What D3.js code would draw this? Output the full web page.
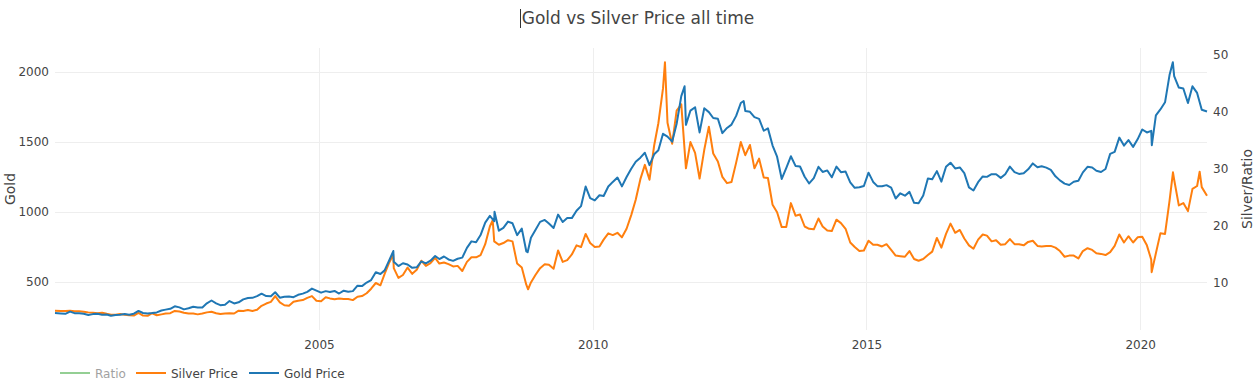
<!DOCTYPE html>
<html>
<head>
<meta charset="utf-8">
<script src="https://cdn.jsdelivr.net/npm/d3@7"></script>
<style>
  body { margin: 0; background: #fff; }
  text { font-family: Verdana, 'DejaVu Sans', sans-serif; fill: #444; }
</style>
</head>
<body>
<div id="plot"></div>
<script>
// monthly values, Mar 2000 .. Mar 2021
var goldPrice = [
  278, 275, 272, 288, 277, 277, 273, 264, 270, 272,
  265, 267, 258, 264, 266, 270, 266, 273, 293, 278, 275, 278,
  282, 296, 302, 308, 326, 318, 304, 312, 323, 317, 318, 347,
  367, 347, 334, 337, 363, 346, 354, 375, 385, 386, 398, 416,
  399, 397, 426, 387, 394, 395, 391, 408, 416, 429, 452, 438,
  423, 434, 428, 435, 417, 437, 430, 434, 473, 470, 495, 513,
  569, 556, 582, 654, 643, 613, 633, 624, 600, 604, 646, 632,
  651, 685, 663, 681, 660, 650, 665, 673, 743, 789, 783, 834,
  923, 971, 933, 865, 885, 930, 918, 833, 880, 718, 815, 870,
  928, 942, 916, 884, 980, 927, 955, 955, 1007, 1040, 1180, 1097,
  1081, 1118, 1113, 1180, 1213, 1244, 1181, 1248, 1307, 1357, 1386, 1421,
  1333, 1410, 1439, 1556, 1536, 1500, 1628, 1825, 1620, 1722, 1746, 1566,
  1738, 1711, 1669, 1664, 1561, 1598, 1622, 1684, 1776, 1719, 1713, 1675,
  1663, 1578, 1595, 1472, 1393, 1234, 1312, 1396, 1327, 1323, 1250, 1202,
  1240, 1321, 1284, 1295, 1246, 1322, 1282, 1287, 1210, 1171, 1175, 1184,
  1279, 1213, 1183, 1182, 1190, 1172, 1095, 1132, 1115, 1142, 1064, 1061,
  1116, 1238, 1232, 1290, 1215, 1321, 1350, 1309, 1316, 1276, 1174, 1152,
  1211, 1252, 1249, 1268, 1268, 1242, 1268, 1322, 1283, 1270, 1275, 1303,
  1345, 1318, 1325, 1315, 1299, 1253, 1224, 1201, 1191, 1214, 1222, 1281,
  1321, 1316, 1293, 1284, 1305, 1413, 1427, 1529, 1472, 1512, 1463, 1517,
  1587, 1566, 1577, 1687, 1730, 1781, 1975, 1967, 1886, 1879, 1776, 1895,
  1848, 1728, 1715
]
var silverPrice = [
  5.05, 5.0, 4.98, 5.05, 4.95, 4.95, 4.85, 4.75, 4.7, 4.6,
  4.7, 4.5, 4.35, 4.35, 4.45, 4.35, 4.25, 4.2, 4.65, 4.2, 4.15, 4.6,
  4.25, 4.4, 4.55, 4.6, 5.0, 4.9, 4.7, 4.55, 4.55, 4.4, 4.55, 4.75,
  4.85, 4.6, 4.45, 4.55, 4.6, 4.55, 5.05, 5.0, 5.15, 5.0, 5.2, 5.9,
  6.3, 6.6, 7.6, 6.5, 6.0, 5.9, 6.6, 6.8, 6.9, 7.3, 7.6, 6.8,
  6.7, 7.4, 7.2, 7.05, 7.2, 7.1, 7.1, 6.9, 7.5, 7.6, 8.1, 8.9,
  9.9, 9.5, 11.5, 13.5, 12.5, 10.8, 11.3, 12.6, 11.5, 12.2, 13.8, 12.9,
  13.4, 14.3, 13.3, 13.5, 13.2, 12.8, 12.9, 12.0, 13.6, 14.4, 14.4, 14.8,
  16.7, 19.8, 17.2, 16.6, 16.9, 17.4, 17.2, 13.3, 12.6, 9.6, 10.0, 11.3,
  12.5, 13.2, 13.1, 12.4, 15.6, 13.6, 13.9, 14.9, 16.5, 16.2, 18.5, 16.9,
  16.2, 16.3, 17.5, 18.6, 18.3, 18.7, 17.9, 19.4, 21.8, 24.5, 28.1, 30.6,
  28.0, 34.0, 37.9, 44.0, 38.0, 34.3, 40.1, 41.2, 30.0, 34.6, 32.7, 28.2,
  33.2, 37.3, 32.6, 31.2, 28.5, 27.4, 27.6, 31.0, 34.6, 32.3, 34.1, 30.0,
  31.7, 28.4, 28.3, 23.6, 22.3, 19.7, 19.7, 23.9, 21.7, 21.9, 19.8, 19.4,
  19.3, 21.2, 19.8, 19.1, 19.0, 21.0, 20.4, 19.4, 17.0, 16.2, 15.5, 15.6,
  17.3, 16.6, 16.6, 16.3, 16.7, 15.7, 14.7, 14.6, 14.5, 15.5, 14.1, 13.8,
  14.1, 14.8, 15.4, 17.8, 16.1, 18.5, 20.3, 18.7, 19.2, 17.7, 16.5, 15.9,
  17.5, 18.4, 18.2, 17.2, 17.4, 16.6, 16.7, 17.6, 16.7, 16.7, 16.5, 17.1,
  17.3, 16.4, 16.3, 16.4, 16.4, 16.1, 15.5, 14.5, 14.7, 14.7, 14.2, 15.5,
  16.0, 15.7, 15.1, 15.0, 14.8, 15.3, 16.4, 18.4, 17.0, 18.1, 17.0, 17.9,
  18.0, 16.5, 14.0, 15.1, 18.6, 18.5, 24.3, 28.0, 23.5, 23.9, 22.5, 26.4,
  26.9, 26.7, 25.2
]
// sharp moves between the monthly points
var goldPeaks = [
  ['2006-05-12', 720], ['2008-03-17', 1000], ['2008-10-24', 712],
  ['2011-09-06', 1895], ['2012-10-04', 1790], ['2020-03-19', 1475],
  ['2020-08-06', 2067]
]
var silverPeaks = [
  ['2006-05-11', 14.9], ['2008-03-05', 20.9], ['2008-10-27', 8.8],
  ['2011-04-28', 48.6], ['2020-03-18', 11.8], ['2020-08-07', 29.3],
  ['2021-02-01', 29.4]
]
var firstDay = '2000-03-07'
var lastDay = '2021-03-22'
var yearTicks = [2005, 2010, 2015, 2020]
var goldTicks = [500, 1000, 1500, 2000]
var silverTicks = [10, 20, 30, 40, 50]
var legendNames = ['Ratio', 'Silver Price', 'Gold Price']

var parseDay = d3.timeParse('%Y-%m-%d')
var W = 1260, H = 385
var margin = { top: 48, right: 53, bottom: 55, left: 55 }
var width = W - margin.left - margin.right
var height = H - margin.top - margin.bottom

function buildSeries(values, peaks) {
  var pts = values.map(function(v, i) {
    var d = new Date(2000, 2 + i, 15)
    if (i === 0) d = parseDay(firstDay)
    if (i === values.length - 1) d = parseDay(lastDay)
    return { date: d, value: v }
  })
  peaks.forEach(function(p) {
    pts.push({ date: parseDay(p[0]), value: p[1] })
  })
  return pts.sort(function(a, b) { return a.date - b.date })
}

var gold = buildSeries(goldPrice, goldPeaks)
var silver = buildSeries(silverPrice, silverPeaks)

function padded(data) {
  var e = d3.extent(data, function(d) { return d.value })
  var p = (e[1] - e[0]) * 0.056
  return [e[0] - p, e[1] + p]
}

var xScale = d3.scaleTime()
  .domain([parseDay(firstDay), parseDay(lastDay)])
  .range([0, width])
var yGold = d3.scaleLinear().domain(padded(gold)).range([height, 0])
var ySilver = d3.scaleLinear().domain(padded(silver)).range([height, 0])

var svg = d3.select('#plot').append('svg')
  .attr('width', W).attr('height', H)

var g = svg.append('g')
  .attr('transform', 'translate(' + margin.left + ',' + margin.top + ')')

// grid
g.append('g')
  .selectAll('line')
  .data(yearTicks)
  .join('line')
  .attr('x1', function(d) { return Math.round(xScale(new Date(d, 0, 1))) + 0.5 })
  .attr('x2', function(d) { return Math.round(xScale(new Date(d, 0, 1))) + 0.5 })
  .attr('y1', 0).attr('y2', height)
  .style('stroke', '#eee')

g.append('g')
  .selectAll('line')
  .data(goldTicks)
  .join('line')
  .attr('x1', 0).attr('x2', width)
  .attr('y1', function(d) { return Math.round(yGold(d)) + 0.5 })
  .attr('y2', function(d) { return Math.round(yGold(d)) + 0.5 })
  .style('stroke', '#eee')

// axes
var xAxis = d3.axisBottom(xScale)
  .tickValues(yearTicks.map(function(y) { return new Date(y, 0, 1) }))
  .tickFormat(d3.timeFormat('%Y'))
  .tickSize(0).tickPadding(10)
var yAxisL = d3.axisLeft(yGold).tickValues(goldTicks)
  .tickFormat(d3.format('d')).tickSize(0).tickPadding(6)
var yAxisR = d3.axisRight(ySilver).tickValues(silverTicks)
  .tickFormat(d3.format('d')).tickSize(0).tickPadding(6)

g.append('g').attr('transform', 'translate(0,' + height + ')').call(xAxis)
g.append('g').call(yAxisL)
g.append('g').attr('transform', 'translate(' + width + ',0)').call(yAxisR)
g.selectAll('.domain').remove()
g.selectAll('.tick text')
  .style('font-family', "Verdana, 'DejaVu Sans', sans-serif")
  .style('font-size', '12px')
  .style('fill', '#444')

// lines
var goldLine = d3.line()
  .x(function(d) { return xScale(d.date) })
  .y(function(d) { return yGold(d.value) })
var silverLine = d3.line()
  .x(function(d) { return xScale(d.date) })
  .y(function(d) { return ySilver(d.value) })

g.append('path').datum(silver).attr('d', silverLine)
  .style('fill', 'none').style('stroke', '#ff7f0e').style('stroke-width', 2)
  .style('stroke-linejoin', 'round')
g.append('path').datum(gold).attr('d', goldLine)
  .style('fill', 'none').style('stroke', '#1f77b4').style('stroke-width', 2)
  .style('stroke-linejoin', 'round')

// titles
svg.append('text')
  .attr('x', 638).attr('y', 24)
  .attr('text-anchor', 'middle')
  .style('font-size', '17px')
  .text('Gold vs Silver Price all time')
svg.append('line')
  .attr('x1', 520.5).attr('x2', 520.5).attr('y1', 9).attr('y2', 28)
  .style('stroke', '#333')

svg.append('text')
  .attr('transform', 'translate(15,' + (margin.top + height / 2) + ') rotate(-90)')
  .attr('text-anchor', 'middle')
  .style('font-size', '14px')
  .text('Gold')
svg.append('text')
  .attr('transform', 'translate(1252,' + (margin.top + height / 2) + ') rotate(-90)')
  .attr('text-anchor', 'middle')
  .style('font-size', '14px')
  .text('Silver/Ratio')

// legend
var legendColors = ['#2ca02c', '#ff7f0e', '#1f77b4']
var legendX = [60, 136, 249]
var legend = svg.append('g').attr('transform', 'translate(0,373)')
var item = legend.selectAll('g')
  .data(legendNames)
  .join('g')
  .attr('transform', function(d, i) { return 'translate(' + legendX[i] + ',0)' })
  .style('opacity', function(d, i) { return i === 0 ? 0.5 : 1 })
item.append('line')
  .attr('x1', 0).attr('x2', 30).attr('y1', 0).attr('y2', 0)
  .style('stroke', function(d, i) { return legendColors[i] })
  .style('stroke-width', 2)
item.append('text')
  .attr('x', 35).attr('y', 4.5)
  .style('font-size', '12px')
  .text(function(d) { return d })
</script>
</body>
</html>
